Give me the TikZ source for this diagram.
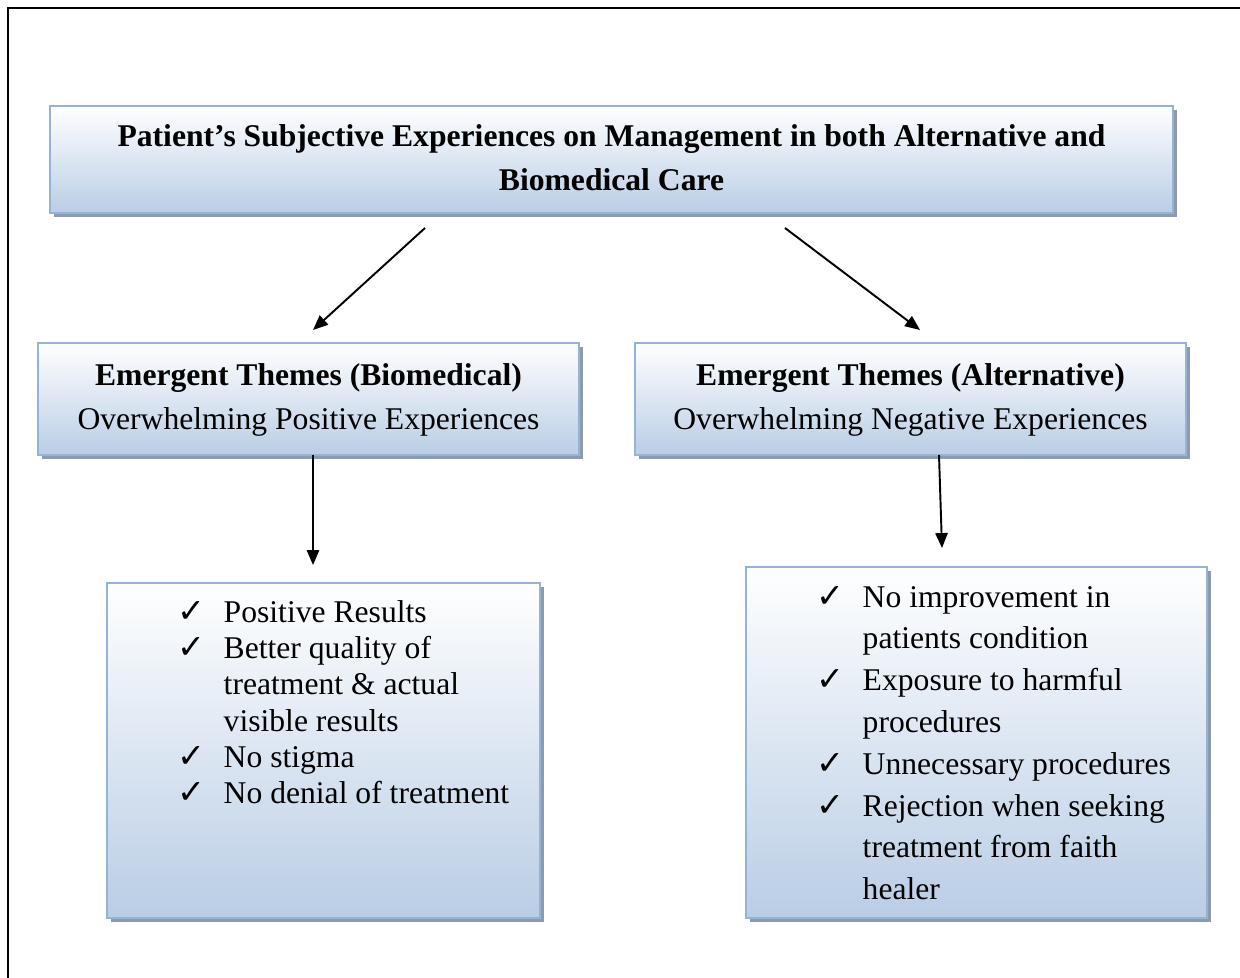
\documentclass[tikz,border=0pt]{standalone}
\usepackage{fontspec}
\setmainfont{Liberation Serif}
\newfontfamily\tickfont{DejaVu Sans}
\usetikzlibrary{arrows.meta,shadows}
\definecolor{boxline}{RGB}{149,179,215}
\definecolor{boxbot}{RGB}{185,205,229}
\definecolor{boxshade}{RGB}{142,155,173}
\newcommand{\chkmark}{\makebox[26.4pt][l]{\tickfont\fontsize{19}{19}\selectfont ✓}}
\tikzset{
    themebox/.style={inner sep=0pt, draw=boxline, line width=1.2pt,
        top color=white, bottom color=boxbot,
        drop shadow={shadow xshift=0.08cm, shadow yshift=-0.08cm, fill=boxshade, opacity=1}},
    thread/.style={line width=1.1pt, -{Triangle[length=8.5pt,width=7pt]}},
    listtext/.style={inner sep=0pt, anchor=base west}
}
\begin{document}
\begin{tikzpicture}[x=0.02cm, y=-0.02cm]
            \useasboundingbox (0,0) rectangle (1240,977);
            % outer frame
            \draw[line width=1.1pt] (8,1000) -- (8,8) -- (1260,8);
            % boxes
            \node[themebox, minimum width=22.46cm, minimum height=2.14cm,
                font=\bfseries\fontsize{18}{25}\selectfont] (title) at (611.5,159.5)
                {\begin{tabular}{@{}c@{}}
                    Patient’s Subjective Experiences on Management in both Alternative and\\
                    Biomedical Care
                \end{tabular}};
            \node[themebox, minimum width=10.82cm, minimum height=2.24cm,
                font=\fontsize{18}{25}\selectfont] (bio) at (308.5,399)
                {\begin{tabular}{@{}c@{}}
                    \textbf{Emergent Themes (Biomedical)}\\
                    Overwhelming Positive Experiences
                \end{tabular}};
            \node[themebox, minimum width=11.02cm, minimum height=2.24cm,
                font=\fontsize{18}{25}\selectfont] (alt) at (910.5,399)
                {\begin{tabular}{@{}c@{}}
                    \textbf{Emergent Themes (Alternative)}\\
                    Overwhelming Negative Experiences
                \end{tabular}};
            \node[themebox, minimum width=8.66cm, minimum height=6.7cm] (posbox) at (323.5,750.5) {};
            \node[themebox, minimum width=9.22cm, minimum height=7.02cm] (negbox) at (976.5,742.5) {};
            % lists
            \node[listtext, font=\fontsize{18}{20.7}\selectfont] (poslist) at (177,622)
                {\begin{tabular}[t]{@{}l@{}l@{}}
                    \chkmark & Positive Results\\
                    \chkmark & Better quality of\\
                             & treatment \& actual\\
                             & visible results\\
                    \chkmark & No stigma\\
                    \chkmark & No denial of treatment
                \end{tabular}};
            \node[listtext, font=\fontsize{18}{23.8}\selectfont] (neglist) at (816,607)
                {\begin{tabular}[t]{@{}l@{}l@{}}
                    \chkmark & No improvement in\\
                             & patients condition\\
                    \chkmark & Exposure to harmful\\
                             & procedures\\
                    \chkmark & Unnecessary procedures\\
                    \chkmark & Rejection when seeking\\
                             & treatment from faith\\
                             & healer
                \end{tabular}};
            % arrows
            \coordinate (t1) at (425,228);
            \coordinate (t2) at (785,228);
            \coordinate (b1) at (313,330);
            \coordinate (a1) at (920,330);
            \coordinate (p0) at (313,455);
            \coordinate (p1) at (313,565);
            \coordinate (n0) at (939,455);
            \coordinate (n1) at (942,548);
            \foreach \s/\e in {t1/b1, t2/a1, p0/p1, n0/n1} {
                \draw[thread] (\s) -- (\e);
            }
        \end{tikzpicture}
\end{document}
